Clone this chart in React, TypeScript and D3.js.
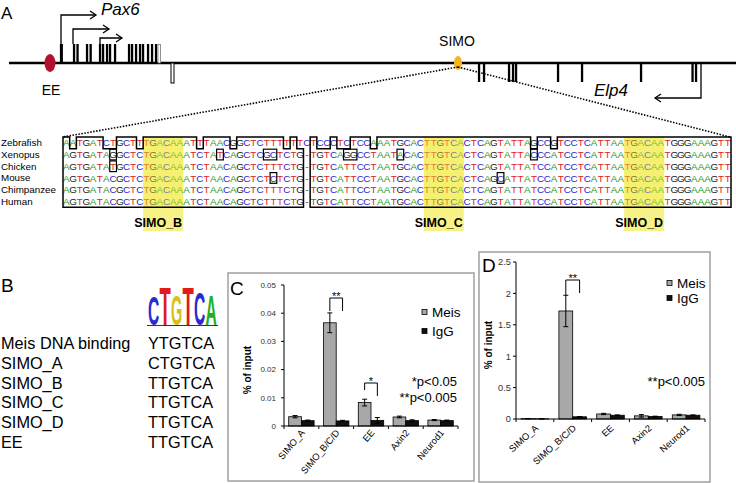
import React from "react";
import * as d3 from "d3";

const FONT = "'Liberation Sans', Arial, Helvetica, sans-serif";

// ---------------- Panel A: locus (positions in kb along the locus) ----------------
const pax6ExonsAbove = [52, 65, 68.5, 78, 81.6, 91, 94, 98, 101, 106, 120, 123, 127, 131, 134, 139, 143, 147];
const pax6UtrAbove = [150];
const pax6UtrBelow = [162];
const pax6Promoters = [52, 64, 91];
const pax6PromoterEnds = [87, 100, 113];
const elp4Exons = [470, 475, 500, 504, 507, 549, 573, 632, 683.5, 687];
const elp4Promoter = 692;
const elp4PromoterEnd = 646;
const eePos = 41;
const simoPos = 449;

// ---------------- Panel A: alignment ----------------
const speciesNames = ["Zebrafish", "Xenopus", "Chicken", "Mouse", "Chimpanzee", "Human"];
const alignment = [
  "AATGATCTGCTT" + "TGACAA" + "ATTTAACGGCTCTTTTTT" + "C" + "TCCCTCTCCAAATGCAC" + "TTGTCA" + "CTCAGTATTAGCCGTCCTCATTAA" + "TGACAAT" + "GGGAAAGTT",
  "AGTGATAGGCTC" + "TGACAA" + "ATCTATCAGCTCGCTCTG" + "-" + "TGTCAGGCCTAATACAC" + "TTGTCA" + "CTCAGTATTACCCATCCTCATTAA" + "TGACAAT" + "GGGAAAGTT",
  "AGTGATATGCTC" + "TGACAA" + "ATCTAACAGCTCTTTCTG" + "-" + "TGTCATTCCTAATGCAC" + "TTGTCA" + "CTCAGTATTATCCATCCTCATTAA" + "TGACAAT" + "GGGAAAGTT",
  "AGTGATACGCTC" + "TGACAA" + "ATCTAACAGCTCTCTCTG" + "-" + "TGTCATTCCTAATGCAC" + "TTGTCA" + "CTCAGCATTATCCATCCTCATTAA" + "TGACAAT" + "GGGAAAGTT",
  "AGTGATACGCTC" + "TGACAA" + "ATCTAACAGCTCTTTCTG" + "-" + "TGTCATTCCTAATGCAC" + "TTGTCA" + "CTCAGTATTATCCATCCTCATTAA" + "TGACAAT" + "GGGAAAGTT",
  "AGTGATACGCTC" + "TGACAA" + "ATCTAACAGCTCTTTCTG" + "-" + "TGTCATTCCTAATGCAC" + "TTGTCA" + "CTCAGTATTATCCATCCTCATTAA" + "TGACAAT" + "GGGAAAGTT",
];
const alignBlocks: [number, number][] = [[0, 36], [37, 100]];
const siteNames = ["SIMO_B", "SIMO_C", "SIMO_D"];
const siteStarts = [12, 54, 84];
const siteLength = 6;

// ---------------- Panel B ----------------
const logoLetters = ["C", "T", "G", "T", "C", "A"];
const logoBits = [1.45, 1.95, 1.5, 1.9, 1.65, 1.55];
const motifNames = ["Meis DNA binding", "SIMO_A", "SIMO_B", "SIMO_C", "SIMO_D", "EE"];
const motifSeqs = ["YTGTCA", "CTGTCA", "TTGTCA", "TTGTCA", "TTGTCA", "TTGTCA"];

// ---------------- Panels C / D ----------------
const categories = ["SIMO_A", "SIMO_B/C/D", "EE", "Axin2", "Neurod1"];
const seriesNames = ["Meis", "IgG"];
const meisC = [0.0033, 0.0366, 0.0083, 0.0032, 0.0021];
const meisCErr = [0.0004, 0.0035, 0.0012, 0.0003, 0.0002];
const iggC = [0.0019, 0.0018, 0.002, 0.0019, 0.0019];
const iggCErr = [0.0002, 0.0002, 0.001, 0.0003, 0.0002];
const yTicksC = [0, 0.01, 0.02, 0.03, 0.04, 0.05];
const meisD = [0.005, 1.72, 0.08, 0.05, 0.065];
const meisDErr = [0.002, 0.25, 0.01, 0.02, 0.01];
const iggD = [0.002, 0.035, 0.06, 0.04, 0.06];
const iggDErr = [0.001, 0.005, 0.005, 0.005, 0.005];
const yTicksD = [0, 0.5, 1, 1.5, 2, 2.5];
const pTextsC = ["*p<0.05", "**p<0.005"];
const pTextsD = ["**p<0.005"];

const baseColor: Record<string, string> = { A: "#1f9a1f", C: "#2727d2", G: "#222222", T: "#e2231c", "-": "#444" };
const logoColor: Record<string, string> = { A: "#22b022", C: "#2a2ad0", G: "#d8bf12", T: "#e01b1b" };
const boldAdv: Record<string, number> = { A: 0.722, C: 0.722, G: 0.778, T: 0.611 };

function consensusAt(col: number) {
  const counts = new Map<string, number>();
  alignment.forEach((s) => counts.set(s[col], (counts.get(s[col]) || 0) + 1));
  let best = alignment[5][col];
  let bc = -1;
  counts.forEach((v, k) => {
    if (v > bc || (v === bc && k === alignment[5][col])) { bc = v; best = k; }
  });
  return best;
}

function Arrow({ x, y, dir }: { x: number; y: number; dir: 1 | -1 }) {
  return <path d={`M${x - dir * 6},${y - 4} L${x},${y} L${x - dir * 6},${y + 4}`} fill="none" stroke="#000" strokeWidth={1.3} />;
}

function BarPanel(props: {
  box: [number, number, number, number]; letter: string; letterPos: [number, number];
  xRange: [number, number]; yDomain: [number, number]; yRange: [number, number]; yTicks: number[];
  meis: number[]; meisErr: number[]; igg: number[]; iggErr: number[];
  legendX: number; legendY: [number, number]; pTexts: string[]; pRight: number; pY: number;
  brackets: { cat: number; top: number; lb: number; rb: number; text: string }[];
  ylabelPos: [number, number]; xLabelY: number; tickLabelGap: number; tickFont: number; xAngle: number;
}) {
  const p = props;
  const x0 = d3.scaleBand<string>().domain(categories).range(p.xRange).padding(0);
  const x1 = d3.scaleBand<string>().domain(seriesNames).range([0, x0.bandwidth()]).paddingInner(0).paddingOuter(0.37);
  const y = d3.scaleLinear().domain(p.yDomain).range(p.yRange);
  const y0 = y(0);
  const cx = (i: number, s: string) => (x0(categories[i]) as number) + (x1(s) as number) + x1.bandwidth() / 2;
  const series = [
    { name: "Meis", v: p.meis, e: p.meisErr, fill: "#a8a8a8" },
    { name: "IgG", v: p.igg, e: p.iggErr, fill: "#111" },
  ];
  const bounds = categories.map((c) => x0(c) as number).concat([p.xRange[1]]);
  return (
    <g>
      <rect x={p.box[0]} y={p.box[1]} width={p.box[2]} height={p.box[3]} fill="none" stroke="#9a9a9a" strokeWidth={1.4} />
      <text x={p.letterPos[0]} y={p.letterPos[1]} fontSize={19}>{p.letter}</text>
      <line x1={p.xRange[0]} x2={p.xRange[0]} y1={y(p.yDomain[1])} y2={y0} stroke="#000" strokeWidth={1} />
      {p.yTicks.map((t) => (
        <g key={t}>
          <line x1={p.xRange[0] - 3} x2={p.xRange[0]} y1={y(t)} y2={y(t)} stroke="#000" strokeWidth={1} />
          <text x={p.xRange[0] - p.tickLabelGap} y={y(t) + p.tickFont * 0.36} fontSize={p.tickFont} textAnchor="end" fill="#333">{String(t)}</text>
        </g>
      ))}
      <text transform={`translate(${p.ylabelPos[0]},${p.ylabelPos[1]}) rotate(-90)`} fontSize={10} fontWeight="bold" textAnchor="middle">% of input</text>
      {series.map((s) =>
        s.v.map((v, i) => (
          <rect key={s.name + i} x={cx(i, s.name) - x1.bandwidth() / 2} width={x1.bandwidth()} y={y(v)} height={y0 - y(v)}
            fill={s.fill} stroke="#000" strokeWidth={0.8} />
        ))
      )}
      {series.map((s) =>
        s.v.map((v, i) => {
          const c = cx(i, s.name);
          const a = y(v + s.e[i]);
          const b = y(Math.max(0, v - s.e[i]));
          return (
            <g key={"e" + s.name + i} stroke="#000" strokeWidth={1}>
              <line x1={c} x2={c} y1={a} y2={b} />
              <line x1={c - 2.5} x2={c + 2.5} y1={a} y2={a} />
              <line x1={c - 2.5} x2={c + 2.5} y1={b} y2={b} />
            </g>
          );
        })
      )}
      <line x1={p.xRange[0]} x2={p.xRange[1]} y1={y0} y2={y0} stroke="#000" strokeWidth={1.2} />
      {bounds.map((b, i) => (
        <line key={i} x1={b} x2={b} y1={y0} y2={y0 + 3} stroke="#000" strokeWidth={1} />
      ))}
      {categories.map((c) => {
        const mid = (x0(c) as number) + x0.bandwidth() / 2;
        return (
          <text key={c} transform={`translate(${mid + 4},${p.xLabelY}) rotate(${p.xAngle})`} fontSize={9.4} textAnchor="end">{c}</text>
        );
      })}
      {p.brackets.map((br, k) => {
        const a = cx(br.cat, "Meis");
        const b = cx(br.cat, "IgG");
        return (
          <g key={"br" + k}>
            <path d={`M${a},${br.lb} V${br.top} H${b} V${br.rb}`} fill="none" stroke="#000" strokeWidth={1} />
            <text x={(a + b) / 2} y={br.top + 2} fontSize={11} textAnchor="middle">{br.text}</text>
          </g>
        );
      })}
      {seriesNames.map((s, i) => (
        <g key={s}>
          <rect x={p.legendX} y={p.legendY[i] - 2.5} width={5} height={5} fill={series[i].fill} stroke="#000" strokeWidth={0.8} />
          <text x={p.legendX + 10} y={p.legendY[i] + 4.5} fontSize={13.5}>{s}</text>
        </g>
      ))}
      {p.pTexts.map((t, i) => (
        <text key={t} x={p.pRight} y={p.pY + i * 15.5} fontSize={13} textAnchor="end">{t}</text>
      ))}
    </g>
  );
}

export default function App() {
  const xL = d3.scaleLinear().domain([0, 727]).range([9, 736]);
  const lineY = 63;

  const nCols = alignment[0].length;
  const colX = d3.scaleLinear().domain([0, 100]).range([63, 63 + 100 * 6.68]);
  const cw = colX(1) - colX(0);
  const rowTop = (r: number) => 137 + r * 11.7;
  const rowH = 11.7;
  const cons = d3.range(nCols).map(consensusAt);

  const outline = (a: number, b: number) => {
    let d = "";
    let prev: number | null = null;
    for (let c = a; c < b; c++) {
      const yy = alignment[0][c] === cons[c] ? rowTop(0) : rowTop(1);
      if (prev === null) d += `M${colX(c)},${yy}`;
      else if (yy !== prev) d += ` L${colX(c)},${yy}`;
      d += ` L${colX(c + 1)},${yy}`;
      prev = yy;
    }
    d += ` L${colX(b)},${rowTop(6)} L${colX(a)},${rowTop(6)} Z`;
    return d;
  };

  const mismatchBoxes: { r: number; a: number; b: number }[] = [];
  for (let r = 1; r < 6; r++) {
    let start = -1;
    for (let c = 0; c <= nCols; c++) {
      const inBlock = alignBlocks.some(([a, b]) => c >= a && c < b);
      const mm = c < nCols && inBlock && alignment[r][c] !== cons[c];
      if (mm && start < 0) start = c;
      if (!mm && start >= 0) { mismatchBoxes.push({ r, a: start, b: c }); start = -1; }
    }
  }

  const logoX = d3.scaleBand<number>().domain(d3.range(logoLetters.length)).range([148, 217]);
  const logoY = d3.scaleLinear().domain([0, 2]).range([325, 285]);

  return (
    <svg width={736} height={483} style={{ position: "absolute", left: 0, top: 0, background: "#fff" }} fontFamily={FONT}>
      {/* ===== Panel A ===== */}
      <text x={1} y={19} fontSize={17}>A</text>
      <line x1={xL(0)} x2={xL(727)} y1={lineY} y2={lineY} stroke="#000" strokeWidth={2.6} />
      {pax6ExonsAbove.map((e, i) => (
        <rect key={"p" + i} x={xL(e) - 1.1} width={i === 0 ? 3 : 2.3} y={44} height={lineY - 44} fill="#000" />
      ))}
      {pax6UtrAbove.map((e, i) => (
        <rect key={"pu" + i} x={xL(e) - 1} width={2.5} y={44.5} height={lineY - 44.5} fill="#fff" stroke="#777" strokeWidth={0.8} />
      ))}
      {pax6UtrBelow.map((e, i) => (
        <rect key={"pb" + i} x={xL(e)} width={3} y={lineY} height={20} fill="#fff" stroke="#000" strokeWidth={1} />
      ))}
      {pax6Promoters.map((p, i) => {
        const yy = [15, 29, 38][i];
        return (
          <g key={"pr" + i}>
            <path d={`M${xL(p)},44 V${yy} H${xL(pax6PromoterEnds[i])}`} fill="none" stroke="#000" strokeWidth={1.3} />
            <Arrow x={xL(pax6PromoterEnds[i])} y={yy} dir={1} />
          </g>
        );
      })}
      <text x={101} y={14.5} fontSize={17} fontStyle="italic">Pax6</text>
      {elp4Exons.map((e, i) => (
        <rect key={"e" + i} x={xL(e) - 1.1} width={2.3} y={lineY} height={19} fill="#000" />
      ))}
      <path d={`M${xL(elp4Promoter)},${lineY} V98 H${xL(elp4PromoterEnd)}`} fill="none" stroke="#000" strokeWidth={1.3} />
      <Arrow x={xL(elp4PromoterEnd)} y={98} dir={-1} />
      <text x={594} y={96} fontSize={17} fontStyle="italic">Elp4</text>
      <ellipse cx={xL(eePos)} cy={lineY} rx={5.5} ry={9} fill="#b3102d" />
      <text x={xL(eePos) + 1} y={95} fontSize={14} textAnchor="middle">EE</text>
      <ellipse cx={xL(simoPos)} cy={lineY} rx={4} ry={7} fill="#f5b51e" />
      <text x={xL(simoPos) - 1} y={46} fontSize={14} textAnchor="middle">SIMO</text>
      <line x1={xL(simoPos)} y1={67} x2={colX(0)} y2={rowTop(0)} stroke="#000" strokeWidth={1.6} strokeDasharray="1.5 1.5" />
      <line x1={xL(simoPos)} y1={67} x2={colX(nCols) - 1} y2={rowTop(0)} stroke="#000" strokeWidth={1.6} strokeDasharray="1.5 1.5" />

      {siteStarts.map((s, i) => (
        <rect key={"hl" + i} x={colX(s)} y={rowTop(0)} width={colX(s + siteLength) - colX(s)} height={231 - rowTop(0)} fill="#f7f288" />
      ))}
      {speciesNames.map((n, r) => (
        <text key={n} x={1} y={rowTop(r) + rowH / 2 + 3.5} fontSize={9.8}>{n}</text>
      ))}
      {alignment.map((s, r) =>
        s.split("").map((ch, c) => (
          <text key={r + "_" + c} x={colX(c) + cw / 2} y={rowTop(r) + rowH / 2 + 3.6} fontSize={9.9} textAnchor="middle" fill={baseColor[ch]}>{ch}</text>
        ))
      )}
      {siteStarts.map((s, i) => (
        <rect key={"ho" + i} x={colX(s)} y={rowTop(0)} width={colX(s + siteLength) - colX(s)} height={rowTop(6) - rowTop(0)} fill="#f6ee50" opacity={0.42} />
      ))}
      {alignBlocks.map(([a, b], i) => (
        <path key={"blk" + i} d={outline(a, b)} fill="none" stroke="#000" strokeWidth={1.5} />
      ))}
      {mismatchBoxes.map((m, i) => (
        <rect key={"mm" + i} x={colX(m.a)} y={rowTop(m.r) + 0.5} width={colX(m.b) - colX(m.a)} height={rowH - 1} fill="none" stroke="#000" strokeWidth={1.2} />
      ))}
      {siteNames.map((n, i) => (
        <text key={n} x={(colX(siteStarts[i]) + colX(siteStarts[i] + siteLength)) / 2 - 5} y={227} fontSize={12.5} fontWeight="bold" textAnchor="middle">{n}</text>
      ))}

      {/* ===== Panel B ===== */}
      <text x={1} y={292} fontSize={19}>B</text>
      {logoLetters.map((l, i) => {
        const h = logoY(0) - logoY(logoBits[i]);
        const bw = logoX.bandwidth();
        const sx = (bw * 0.98) / (boldAdv[l] * 20);
        const sy = h / 14.4;
        return (
          <text key={"lg" + i} transform={`translate(${(logoX(i) as number) + bw / 2},${logoY(0) - 0.5}) scale(${sx},${sy})`}
            fontSize={20} fontWeight="bold" textAnchor="middle" fill={logoColor[l]}>{l}</text>
        );
      })}
      <line x1={147} x2={218} y1={325.5} y2={325.5} stroke="#333" strokeWidth={1} />
      {motifNames.map((n, i) => (
        <g key={n}>
          <text x={1} y={349 + i * 19.8} fontSize={16.3}>{n}</text>
          <text x={148} y={349 + i * 19.8} fontSize={16.3}>{motifSeqs[i]}</text>
        </g>
      ))}

      {/* ===== Panel C ===== */}
      <BarPanel box={[228, 273, 246, 208]} letter="C" letterPos={[230, 295]} xRange={[284, 458]} yDomain={[0, 0.05]} yRange={[426, 285]}
        yTicks={yTicksC} meis={meisC} meisErr={meisCErr} igg={iggC} iggErr={iggCErr}
        legendX={422} legendY={[312, 331]} pTexts={pTextsC} pRight={457} pY={386}
        brackets={[{ cat: 1, top: 298, lb: 311, rb: 311, text: "**" }, { cat: 2, top: 383, lb: 390, rb: 396, text: "*" }]}
        ylabelPos={[251, 370]} xLabelY={433} tickLabelGap={8} tickFont={8} xAngle={-50} />

      {/* ===== Panel D ===== */}
      <BarPanel box={[479, 252, 231, 230]} letter="D" letterPos={[482, 272]} xRange={[516, 705]} yDomain={[0, 2.5]} yRange={[419, 262]}
        yTicks={yTicksD} meis={meisD} meisErr={meisDErr} igg={iggD} iggErr={iggDErr}
        legendX={667} legendY={[283, 298]} pTexts={pTextsD} pRight={705} pY={386}
        brackets={[{ cat: 1, top: 280, lb: 295, rb: 293, text: "**" }]}
        ylabelPos={[492, 345]} xLabelY={429} tickLabelGap={5} tickFont={9.3} xAngle={-42} />
    </svg>
  );
}
